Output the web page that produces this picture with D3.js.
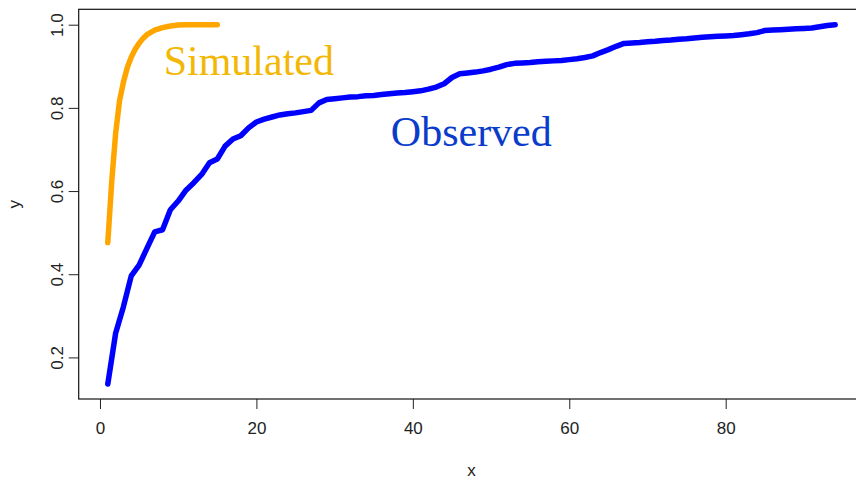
<!DOCTYPE html>
<html>
<head>
<meta charset="utf-8">
<script src="https://cdn.jsdelivr.net/npm/d3@7"></script>
<style>
  html, body { margin: 0; padding: 0; background: #fff; }
  svg { display: block; }
  .tick-label { font-family: "Liberation Sans Narrow", "Arial Narrow", "Liberation Sans", Arial, sans-serif; font-size: 17px; fill: #222; }
  .axis-title { font-family: "Liberation Sans Narrow", "Arial Narrow", "Liberation Sans", Arial, sans-serif; font-size: 17px; fill: #222; }
  .curve-label { font-family: "Liberation Serif", "Times New Roman", serif; font-size: 42px; }
</style>
</head>
<body>
<svg id="chart" width="856" height="480"></svg>
<script>
// Simulated cumulative share (finer steps where it rises fastest)
const simX = [1, 1.5, 2, 2.5, 3, 3.5, 4, 4.5, 5, 5.5, 6, 7, 8, 9, 10, 11, 12, 13, 14, 15];
const simY = [0.476, 0.622, 0.738, 0.817, 0.862, 0.897, 0.922, 0.941, 0.955, 0.967, 0.976, 0.987, 0.993, 0.997, 0.999, 1.0, 1.0, 1.0, 1.0, 1.0];

// Observed cumulative share, x = 1..94
const obsX = d3.range(1, 95);
const obsY = [
  0.136, 0.258, 0.322, 0.396, 0.422, 0.462, 0.502, 0.507, 0.555, 0.576,
  0.602, 0.620, 0.640, 0.668, 0.677, 0.708, 0.725, 0.733, 0.752, 0.766,
  0.773, 0.778, 0.783, 0.786, 0.788, 0.791, 0.794, 0.812, 0.820, 0.822,
  0.824, 0.826, 0.827, 0.829, 0.830, 0.832, 0.834, 0.836, 0.837, 0.839,
  0.841, 0.845, 0.850, 0.858, 0.873, 0.882, 0.884, 0.886, 0.889, 0.893,
  0.898, 0.904, 0.907, 0.908, 0.909, 0.911, 0.912, 0.913, 0.914, 0.916,
  0.918, 0.921, 0.925, 0.933, 0.940, 0.948, 0.955, 0.956, 0.957, 0.959,
  0.960, 0.962, 0.963, 0.965, 0.966, 0.968, 0.970, 0.971, 0.972, 0.973,
  0.974, 0.976, 0.978, 0.981, 0.986, 0.987, 0.988, 0.989, 0.990, 0.991,
  0.992, 0.995, 0.998, 1.000
];

const xTicks = [0, 20, 40, 60, 80];
const yTicks = [0.2, 0.4, 0.6, 0.8, 1.0];
const xTitle = "x";
const yTitle = "y";
const simLabel = "Simulated";
const obsLabel = "Observed";

const svg = d3.select("#chart");

// Plot region (box extends past the right edge of the page)
const plotLeft = 78.7, plotRight = 864.3, plotTop = 9.3, plotBottom = 399;

const x = d3.scaleLinear().domain([-2.72, 97.72]).range([plotLeft, plotRight]);
const y = d3.scaleLinear().domain([0.1, 1.037]).range([plotBottom, plotTop]);

// Curves
const line = d3.line().x(d => x(d[0])).y(d => y(d[1]));

svg.append("path")
  .datum(obsX.map((v, i) => [v, obsY[i]]))
  .attr("d", line)
  .attr("fill", "none")
  .attr("stroke", "#0000ff")
  .attr("stroke-width", 5.5)
  .attr("stroke-linejoin", "round")
  .attr("stroke-linecap", "round");

svg.append("path")
  .datum(simX.map((v, i) => [v, simY[i]]))
  .attr("d", line)
  .attr("fill", "none")
  .attr("stroke", "#ffa500")
  .attr("stroke-width", 5.5)
  .attr("stroke-linejoin", "round")
  .attr("stroke-linecap", "round");

// Axes
const xAxis = svg.append("g")
  .attr("transform", `translate(0,${plotBottom})`)
  .call(d3.axisBottom(x).tickValues(xTicks).tickSize(10).tickPadding(13).tickFormat(d3.format("d")));
xAxis.select(".domain").remove();
xAxis.attr("font-size", null).attr("font-family", null);
xAxis.selectAll("line").attr("stroke", "#222");
xAxis.selectAll("text").attr("class", "tick-label").attr("fill", null);

const yAxis = svg.append("g")
  .attr("transform", `translate(${plotLeft},0)`)
  .call(d3.axisLeft(y).tickValues(yTicks).tickSize(10).tickFormat(d3.format(".1f")));
yAxis.select(".domain").remove();
yAxis.attr("font-size", null).attr("font-family", null);
yAxis.selectAll("line").attr("stroke", "#222");
yAxis.selectAll("text")
  .attr("class", "tick-label")
  .attr("fill", null)
  .attr("x", null)
  .attr("text-anchor", "middle")
  .attr("transform", "translate(-22,0) rotate(-90)")
  .attr("dy", "0.35em");

// Box
svg.append("rect")
  .attr("x", plotLeft).attr("y", plotTop)
  .attr("width", plotRight - plotLeft).attr("height", plotBottom - plotTop)
  .attr("fill", "none").attr("stroke", "#111").attr("stroke-width", 1.2);

// Axis titles
svg.append("text")
  .attr("class", "axis-title")
  .attr("x", (plotLeft + plotRight) / 2).attr("y", 476)
  .attr("text-anchor", "middle")
  .text(xTitle);

svg.append("text")
  .attr("class", "axis-title")
  .attr("transform", `translate(20,${(plotTop + plotBottom) / 2}) rotate(-90)`)
  .attr("text-anchor", "middle")
  .text(yTitle);

// Curve labels
svg.append("text")
  .attr("class", "curve-label")
  .attr("x", 248.8).attr("y", 75)
  .attr("text-anchor", "middle")
  .attr("fill", "#f3b705")
  .text(simLabel);

svg.append("text")
  .attr("class", "curve-label")
  .attr("x", 471.3).attr("y", 145.5)
  .attr("text-anchor", "middle")
  .attr("fill", "#0a3ccc")
  .text(obsLabel);
</script>
</body>
</html>
